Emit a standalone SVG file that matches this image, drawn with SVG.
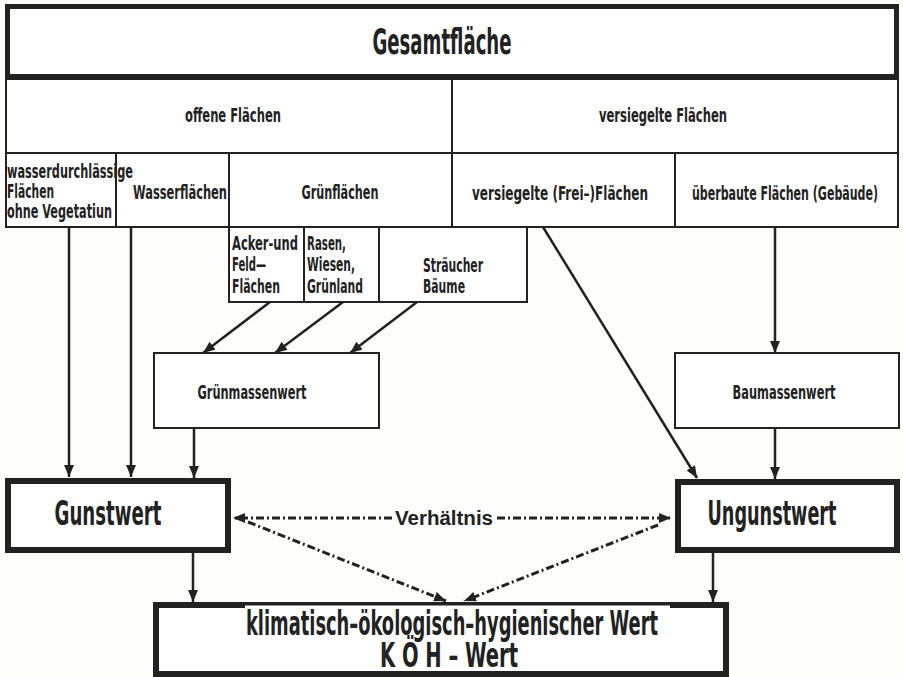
<svg xmlns="http://www.w3.org/2000/svg" width="903" height="677" viewBox="0 0 903 677">
<defs>
<style>
.bg{fill:#fdfdfc}
.box{fill:#fff;stroke:#222;stroke-width:2}
.thick{fill:#fff;stroke:#222;stroke-width:6}
.ln{fill:none;stroke:#222;stroke-width:2}
.t{font-family:"Liberation Sans Narrow","DejaVu Sans Condensed","Liberation Sans",sans-serif;font-weight:bold;fill:#222}
.c{text-anchor:middle}
.s16{font-size:19px}
.s18{font-size:20px}
.s30{font-size:33px}
.v{font-family:"Liberation Sans","Arial",sans-serif;font-weight:bold;font-size:20px;fill:#222}
.arr{fill:none;stroke:#222;stroke-width:2.5;marker-end:url(#ah)}
.dd{fill:none;stroke:#222;stroke-width:3;stroke-dasharray:8 3 2 3;marker-end:url(#ah)}
</style>
<marker id="ah" viewBox="0 0 12 10" refX="12" refY="5" markerWidth="12" markerHeight="10" markerUnits="userSpaceOnUse" orient="auto">
<path d="M0,0 L12,5 L0,10 z" fill="#222"/>
</marker>
</defs>
<rect class="bg" x="0" y="0" width="903" height="677"/>

<g id="gesamt">
<rect x="7.5" y="6.5" width="889" height="70" fill="#fff" stroke="#222" stroke-width="5"/>
<text class="t c" x="442" y="54" font-size="36" textLength="139" lengthAdjust="spacingAndGlyphs">Gesamtfläche</text>
</g>

<g id="table">
<rect class="box" x="6" y="79" width="892" height="148"/>
<line class="ln" x1="6" y1="153" x2="898" y2="153"/>
<line class="ln" x1="452" y1="79" x2="452" y2="227"/>
<line class="ln" x1="116" y1="153" x2="116" y2="227"/>
<line class="ln" x1="229" y1="153" x2="229" y2="227"/>
<line class="ln" x1="675" y1="153" x2="675" y2="227"/>
</g>
<g id="offene">
<text class="t c s18" x="233" y="122" textLength="96" lengthAdjust="spacingAndGlyphs">offene Flächen</text>
</g>
<g id="versiegelte">
<text class="t c s18" x="663" y="122" textLength="128" lengthAdjust="spacingAndGlyphs">versiegelte Flächen</text>
</g>
<g id="wasserdurchlaessig">
<text class="t s16" x="7" y="178" textLength="126" lengthAdjust="spacingAndGlyphs">wasserdurchlässige</text>
<text class="t s16" x="7" y="198" textLength="47" lengthAdjust="spacingAndGlyphs">Flächen</text>
<text class="t s16" x="7" y="218" textLength="105" lengthAdjust="spacingAndGlyphs">ohne Vegetatiun</text>
</g>
<g id="wasserflaechen">
<text class="t c s16" x="180" y="199" textLength="94" lengthAdjust="spacingAndGlyphs">Wasserflächen</text>
</g>
<g id="gruenflaechen">
<text class="t c s16" x="340" y="199" textLength="77" lengthAdjust="spacingAndGlyphs">Grünflächen</text>
</g>
<g id="freiflaechen">
<text class="t c s16" x="560" y="200" textLength="176" lengthAdjust="spacingAndGlyphs">versiegelte (Frei–)Flächen</text>
</g>
<g id="ueberbaut">
<text class="t c s16" x="785" y="200" textLength="186" lengthAdjust="spacingAndGlyphs">überbaute Flächen (Gebäude)</text>
</g>

<g id="subboxes">
<rect class="box" x="229" y="227" width="298" height="75"/>
<line class="ln" x1="304" y1="227" x2="304" y2="302"/>
<line class="ln" x1="379" y1="227" x2="379" y2="302"/>
</g>
<g id="acker">
<text class="t s16" x="232" y="250" textLength="66" lengthAdjust="spacingAndGlyphs">Acker-und</text>
<text class="t s16" x="232" y="271" textLength="34" lengthAdjust="spacingAndGlyphs">Feld—</text>
<text class="t s16" x="232" y="293" textLength="48" lengthAdjust="spacingAndGlyphs">Flächen</text>
</g>
<g id="rasen">
<text class="t s16" x="307" y="250" textLength="39" lengthAdjust="spacingAndGlyphs">Rasen,</text>
<text class="t s16" x="307" y="271" textLength="48" lengthAdjust="spacingAndGlyphs">Wiesen,</text>
<text class="t s16" x="307" y="293" textLength="56" lengthAdjust="spacingAndGlyphs">Grünland</text>
</g>
<g id="straeucher">
<text class="t s16" x="423" y="272" textLength="60" lengthAdjust="spacingAndGlyphs">Sträucher</text>
<text class="t s16" x="423" y="293" textLength="42" lengthAdjust="spacingAndGlyphs">Bäume</text>
</g>

<g id="gruenmassenwert">
<rect class="box" x="154" y="353" width="225" height="75"/>
<text class="t c s16" x="252" y="399" textLength="109" lengthAdjust="spacingAndGlyphs">Grünmassenwert</text>
</g>
<g id="baumassenwert">
<rect class="box" x="675" y="353" width="224" height="75"/>
<text class="t c s16" x="784" y="399" textLength="103" lengthAdjust="spacingAndGlyphs">Baumassenwert</text>
</g>

<g id="gunstwert">
<rect class="thick" x="8" y="481" width="220" height="69"/>
<text class="t c s30" x="108" y="525" textLength="107" lengthAdjust="spacingAndGlyphs">Gunstwert</text>
</g>
<g id="ungunstwert">
<rect class="thick" x="678" y="482" width="219" height="68"/>
<text class="t c s30" x="772" y="525" textLength="129" lengthAdjust="spacingAndGlyphs">Ungunstwert</text>
</g>

<g id="koeh">
<rect class="thick" x="156" y="605" width="570" height="69"/>
<rect x="245" y="605.5" width="425" height="3" fill="#fff"/>
<text class="t c" x="452" y="635" font-size="34" textLength="412" lengthAdjust="spacingAndGlyphs">klimatisch–ökologisch–hygienischer Wert</text>
<text class="t c" x="449" y="667" font-size="34" textLength="138" lengthAdjust="spacingAndGlyphs">K Ö H – Wert</text>
</g>

<g id="verhaeltnis">
<text class="v c" x="444" y="525" textLength="98" lengthAdjust="spacingAndGlyphs">Verhältnis</text>
</g>

<g id="connectors">
<line class="arr" x1="69" y1="227" x2="69" y2="477"/>
<line class="arr" x1="131" y1="227" x2="131" y2="477"/>
<line class="arr" x1="194" y1="428" x2="194" y2="478"/>
<line class="arr" x1="270" y1="302" x2="203" y2="353"/>
<line class="arr" x1="343" y1="302" x2="275" y2="353"/>
<line class="arr" x1="417" y1="302" x2="350" y2="353"/>
<line class="arr" x1="543" y1="227" x2="697" y2="478"/>
<line class="arr" x1="775" y1="227" x2="775" y2="353"/>
<line class="arr" x1="775" y1="428" x2="775" y2="479"/>
<line class="arr" x1="193" y1="553" x2="193" y2="602"/>
<line class="arr" x1="713" y1="553" x2="713" y2="602"/>
<line class="dd" x1="392" y1="518" x2="233" y2="518"/>
<line class="dd" x1="497" y1="518" x2="671" y2="518"/>
<line class="dd" x1="248" y1="522" x2="446" y2="601"/>
<line class="dd" x1="658" y1="525" x2="464" y2="601"/>
</g>
</svg>
